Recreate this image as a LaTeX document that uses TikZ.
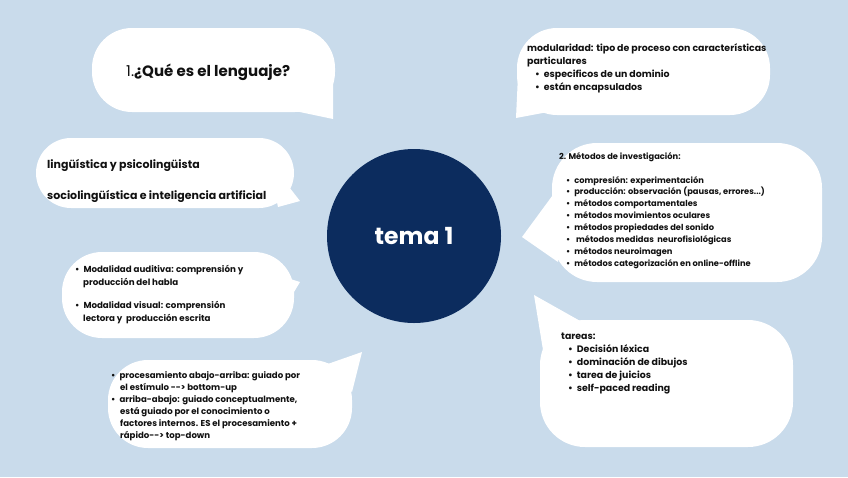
\documentclass[tikz,border=0pt]{standalone}
\usepackage{fontspec}
\setmainfont{Poppins}
\definecolor{bgblue}{HTML}{C9DBEB}
\definecolor{navy}{HTML}{0C2C5E}
\definecolor{ink}{HTML}{111111}
\begin{document}
\begin{tikzpicture}[x=1pt,y=-1pt,
  bubble/.style={fill=white,rounded corners=#1},
  tail/.style={fill=white},
  ln/.style={anchor=base west,inner sep=0pt,text=ink,font=\bfseries\fontsize{#1}{#1}\selectfont}]
\useasboundingbox (0,0) rectangle (848,477);
\fill[bgblue] (0,0) rectangle (848,477);

% bubble 1
\fill[bubble=40] (92,28) rectangle (335,112);
\fill[tail] (295,111) -- (333,119) -- (333,80) -- cycle;
% bubble 2
\fill[bubble=40] (517,28) rectangle (770,115);
\fill[tail] (518,75) -- (516,118) -- (548,112) -- cycle;
% bubble 3
\fill[bubble=35] (36,138) rectangle (294,208);
\fill[tail] (268,160) -- (300,201) -- (278,207) -- cycle;
% bubble 4
\fill[bubble=45] (552,143) rectangle (822,282);
\fill[tail] (558,188) -- (522,237) -- (558,262) -- cycle;
% bubble 5
\fill[bubble=40] (62,252) rectangle (294,338);
\fill[tail] (268,272) -- (300,282) -- (282,312) -- cycle;
% bubble 6
\fill[bubble=40] (108,360) rectangle (352,448);
\fill[tail] (322,366) -- (362,352) -- (352,392) -- cycle;
% bubble 7
\fill[bubble=45] (540,320) rectangle (793,447);
\fill[tail] (543,350) -- (534,295) -- (582,322) -- cycle;

% centre
\node[circle,fill=navy,minimum size=174pt,inner sep=0pt,text=white,font=\bfseries\fontsize{23.5}{23.5}\selectfont] (tema) at (414,236) {tema 1};

% bubble 1 text
\node[ln=15] (q1) at (126,76) {{\mdseries 1.}¿Qué es el lenguaje?};

% bubble 2 text
\node[ln=9.4] (m1) at (527,51) {modularidad: tipo de proceso con características};
\node[ln=9.4] (m2) at (527,64) {particulares};
\node[ln=9.4] (m3) at (535,77) {•\hspace*{4pt}especificos de un dominio};
\node[ln=9.4] (m4) at (535,90) {•\hspace*{4pt}están encapsulados};

% bubble 3 text
\node[ln=11] (l1) at (47,168) {lingüística y psicolingüista};
\node[ln=11] (l2) at (47,199) {sociolingüística e inteligencia artificial};

% bubble 4 text
\node[ln=8.3] (t0) at (559,159) {2. Métodos de investigación:};
\node[ln=8.3] (t1) at (566,183.0) {•\hspace*{4pt}compresión: experimentación};
\node[ln=8.3] (t2) at (566,194.9) {•\hspace*{4pt}producción: observación (pausas, errores...)};
\node[ln=8.3] (t3) at (566,206.8) {•\hspace*{4pt}métodos comportamentales};
\node[ln=8.3] (t4) at (566,218.7) {•\hspace*{4pt}métodos movimientos oculares};
\node[ln=8.3] (t5) at (566,230.6) {•\hspace*{4pt}métodos propiedades del sonido};
\node[ln=8.3] (t6) at (566,242.5) {•\hspace*{4pt} métodos medidas\ \ neurofisiológicas};
\node[ln=8.3] (t7) at (566,254.4) {•\hspace*{4pt}métodos neuroimagen};
\node[ln=8.3] (t8) at (566,266.3) {•\hspace*{4pt}métodos categorización en online-offline};

% bubble 5 text
\node[ln=8.7] (a1) at (75,272) {•\hspace*{4pt}Modalidad auditiva: comprensión y};
\node[ln=8.7] (a2) at (83,285) {producción del habla};
\node[ln=8.7] (a3) at (75,308) {•\hspace*{4pt}Modalidad visual: comprensión};
\node[ln=8.7] (a4) at (83,321) {lectora y\ \ producción escrita};

% bubble 6 text
\node[ln=8.6] (p1) at (111,378) {•\hspace*{4pt}procesamiento abajo-arriba: guiado por};
\node[ln=8.6] (p2) at (120,390) {el estímulo -{}-{}> bottom-up};
\node[ln=8.6] (p3) at (111,402) {•\hspace*{4pt}arriba-abajo: guiado conceptualmente,};
\node[ln=8.6] (p4) at (120,414) {está guiado por el conocimiento o};
\node[ln=8.6] (p5) at (120,426) {factores internos. ES el procesamiento +};
\node[ln=8.6] (p6) at (120,438) {rápido-{}-{}> top-down};

% bubble 7 text
\node[ln=9.4] (r0) at (561,339) {tareas:};
\node[ln=9.4] (r1) at (568,352) {•\hspace*{4pt}Decisión léxica};
\node[ln=9.4] (r2) at (568,365) {•\hspace*{4pt}dominación de dibujos};
\node[ln=9.4] (r3) at (568,378) {•\hspace*{4pt}tarea de juicios};
\node[ln=9.4] (r4) at (568,391) {•\hspace*{4pt}self-paced reading};
\end{tikzpicture}
\end{document}
